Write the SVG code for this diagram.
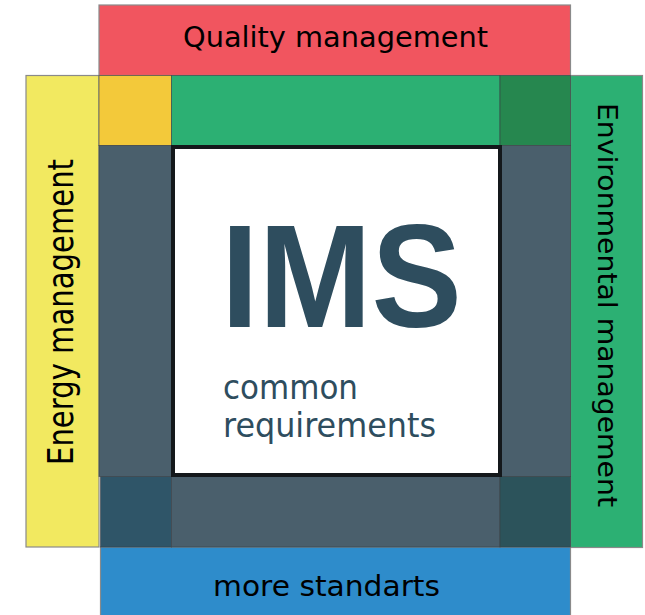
<svg xmlns="http://www.w3.org/2000/svg" width="645" height="615" viewBox="0 0 645 615">
<style>
.lbl{font-family:"DejaVu Sans","Liberation Sans",sans-serif;fill:#000;}
.cell{stroke:#3a3f44;stroke-width:1;stroke-opacity:0.6;}
.outer{stroke:#8a8a8a;stroke-width:1.2;}
.ims{font-family:"Liberation Sans",Arial,sans-serif;font-weight:bold;fill:#2e4d5e;}
.sub{font-family:"DejaVu Sans","Liberation Sans",sans-serif;fill:#2e4d5e;}
</style>
<rect width="645" height="615" fill="#ffffff"/>
<g id="quality">
<rect class="outer" x="99" y="5" width="471.5" height="70.5" fill="#f1555f"/>
<text class="lbl" x="183" y="47" font-size="28" textLength="305" lengthAdjust="spacingAndGlyphs">Quality management</text>
</g>
<g id="energy">
<rect class="outer" x="26" y="75.5" width="73" height="471.5" fill="#f2e960"/>
<text class="lbl" transform="translate(73,465) rotate(-90)" x="0" y="0" font-size="35" textLength="306" lengthAdjust="spacingAndGlyphs">Energy management</text>
</g>
<g id="environmental">
<rect class="outer" x="570.5" y="75.5" width="72" height="472" fill="#2cb073"/>
<text class="lbl" transform="translate(598,103) rotate(90)" x="0" y="0" font-size="26" textLength="404" lengthAdjust="spacingAndGlyphs">Environmental management</text>
</g>
<g id="more">
<rect class="outer" x="100.5" y="547" width="470" height="70" fill="#2e8ccb"/>
<text class="lbl" x="213" y="596" font-size="29" textLength="227" lengthAdjust="spacingAndGlyphs">more standarts</text>
</g>
<g id="frame">
<rect class="cell" x="99" y="75.5" width="72.5" height="70" fill="#f3c93a"/>
<rect class="cell" x="171.5" y="75.5" width="328.5" height="70" fill="#2cb073"/>
<rect class="cell" x="500" y="75.5" width="70.5" height="70" fill="#26874f"/>
<rect class="cell" x="99" y="145.5" width="72.5" height="331" fill="#4a5f6c"/>
<rect class="cell" x="500" y="145.5" width="70.5" height="331" fill="#4a5f6c"/>
<rect class="cell" x="100.5" y="476.5" width="71" height="70.5" fill="#2f5568"/>
<rect class="cell" x="171.5" y="476.5" width="328.5" height="70.5" fill="#4a5f6c"/>
<rect class="cell" x="500" y="476.5" width="70.5" height="70.5" fill="#2c535b"/>
</g>
<g id="ims">
<rect x="173" y="147" width="327" height="328" fill="#ffffff" stroke="#14181b" stroke-width="4"/>
<text class="ims" x="221" y="327" font-size="146" textLength="241" lengthAdjust="spacingAndGlyphs">IMS</text>
<text class="sub" x="223" y="399" font-size="34" textLength="135" lengthAdjust="spacingAndGlyphs">common</text>
<text class="sub" x="223" y="437" font-size="34" textLength="213" lengthAdjust="spacingAndGlyphs">requirements</text>
</g>
</svg>
